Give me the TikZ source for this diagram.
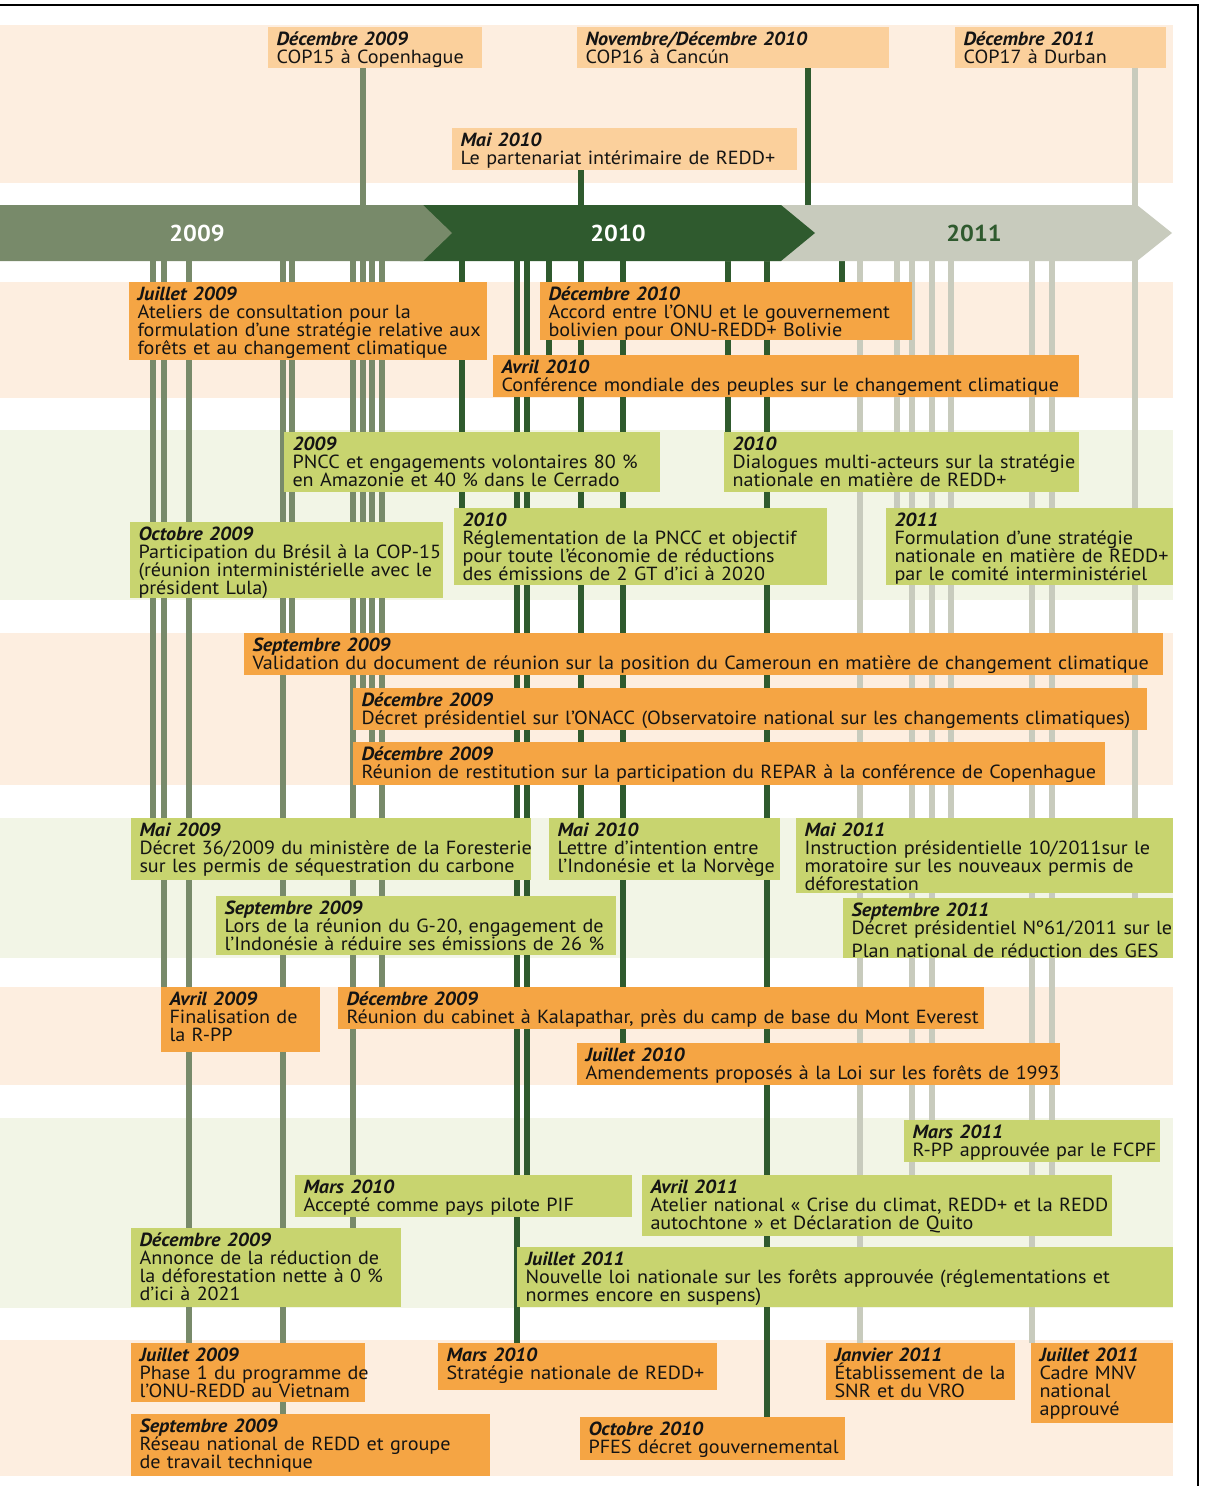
\documentclass[tikz,border=0pt]{standalone}
\usepackage{fontspec}
\setmainfont{PT Sans}[FakeStretch=1.06]
\definecolor{pbandc}{RGB}{253,238,224}
\definecolor{gbandc}{RGB}{242,245,230}
\definecolor{oboxc}{RGB}{245,165,68}
\definecolor{loboxc}{RGB}{251,208,156}
\definecolor{gboxc}{RGB}{200,212,111}
\definecolor{c09}{RGB}{120,138,106}
\definecolor{c10}{RGB}{47,90,46}
\definecolor{c11}{RGB}{200,203,189}
\definecolor{txtc}{RGB}{20,20,20}
\newcommand\evfont{\fontsize{19}{18}\selectfont}
\newcommand\yrfont{\fontsize{23}{24}\selectfont\bfseries}
\newcommand\ev[8]{%
  \node[#2, anchor=north west, minimum width={#5-#3}, minimum height={#6-#4}] (#1) at (#3,#4) {};
  \node[evtxt, anchor=base west] (#1t) at ([xshift=8.5pt,yshift=-18pt]#1.north west) {\textbf{\textit{#7}}\\#8};
}
\pgfdeclarelayer{bandlayer}
\pgfdeclarelayer{linelayer}
\pgfdeclarelayer{arrowlayer}
\pgfsetlayers{bandlayer,linelayer,arrowlayer,main}
\begin{document}
\begin{tikzpicture}[x=1pt,y=-1pt,
  every node/.style={inner sep=0pt, outer sep=0pt},
  pband/.style={fill=pbandc}, gband/.style={fill=gbandc},
  obox/.style={fill=oboxc, rectangle},
  lobox/.style={fill=loboxc, rectangle},
  gbox/.style={fill=gboxc, rectangle},
  evtxt/.style={text width=1000pt, align=left, font=\evfont, text=txtc},
  l09/.style={draw=c09, line width=5.5pt},
  l10/.style={draw=c10, line width=5.5pt},
  l11/.style={draw=c11, line width=5.5pt},
  yr/.style={font=\yrfont}]
\useasboundingbox (0,0) rectangle (1205,1486);
\begin{pgfonlayer}{bandlayer}
\fill[white] (0,0) rectangle (1205,1486);
\fill[pband] (0,25) rectangle (1173,183);
\fill[pband] (0,282) rectangle (1173,398);
\fill[gband] (0,430) rectangle (1173,600);
\fill[pband] (0,633) rectangle (1173,785);
\fill[gband] (0,818) rectangle (1173,958);
\fill[pband] (0,987) rectangle (1173,1085);
\fill[gband] (0,1118) rectangle (1173,1308);
\fill[pband] (0,1340) rectangle (1173,1476);
\end{pgfonlayer}
% frame
\draw[line width=2.2pt] (0,5) -- (1198,5) -- (1198,1486);
% event boxes
\ev{b1}{lobox}{268}{27}{482}{68}{Décembre 2009}{COP15 à Copenhague}
\ev{b2}{lobox}{577}{27}{889}{68}{Novembre/Décembre 2010}{COP16 à Cancún}
\ev{b3}{lobox}{955}{27}{1166}{68}{Décembre 2011}{COP17 à Durban}
\ev{b4}{lobox}{452}{128}{797}{170}{Mai 2010}{Le partenariat intérimaire de REDD+}
\ev{b5}{obox}{129}{282}{487}{360}{Juillet 2009}{Ateliers de consultation pour la\\formulation d’une stratégie relative aux\\forêts et au changement climatique}
\ev{b6}{obox}{540}{282}{912}{340}{Décembre 2010}{Accord entre l’ONU et le gouvernement\\bolivien pour ONU-REDD+ Bolivie}
\ev{b7}{obox}{493}{355}{1079}{397}{Avril 2010}{Conférence mondiale des peuples sur le changement climatique}
\ev{b8}{gbox}{284}{432}{660}{492}{2009}{PNCC et engagements volontaires 80 \%\\en Amazonie et 40 \% dans le Cerrado}
\ev{b9}{gbox}{724}{432}{1079}{492}{2010}{Dialogues multi-acteurs sur la stratégie\\nationale en matière de REDD+}
\ev{b10}{gbox}{130}{522}{443}{598}{Octobre 2009}{Participation du Brésil à la COP-15\\(réunion interministérielle avec le\\président Lula)}
\ev{b11}{gbox}{454}{508}{827}{585}{2010}{Réglementation de la PNCC et objectif\\pour toute l'économie de réductions\\des émissions de 2 GT d’ici à 2020}
\ev{b12}{gbox}{886}{508}{1173}{585}{2011}{Formulation d’une stratégie\\nationale en matière de REDD+\\par le comité interministériel}
\ev{b13}{obox}{244}{633}{1163}{675}{Septembre 2009}{Validation du document de réunion sur la position du Cameroun en matière de changement climatique}
\ev{b14}{obox}{353}{688}{1147}{730}{Décembre 2009}{Décret présidentiel sur l’ONACC (Observatoire national sur les changements climatiques)}
\ev{b15}{obox}{353}{742}{1105}{785}{Décembre 2009}{Réunion de restitution sur la participation du REPAR à la conférence de Copenhague}
\ev{b16}{gbox}{131}{818}{531}{880}{Mai 2009}{Décret 36/2009 du ministère de la Foresterie\\sur les permis de séquestration du carbone}
\ev{b17}{gbox}{549}{818}{780}{880}{Mai 2010}{Lettre d’intention entre\\l’Indonésie et la Norvège}
\ev{b18}{gbox}{796}{818}{1173}{893}{Mai 2011}{Instruction présidentielle 10/2011sur le\\moratoire sur les nouveaux permis de\\déforestation}
\ev{b19}{gbox}{216}{896}{616}{955}{Septembre 2009}{Lors de la réunion du G-20, engagement de\\l’Indonésie à réduire ses émissions de 26 \%}
\ev{b20}{gbox}{843}{898}{1173}{958}{Septembre 2011}{Décret présidentiel Nº61/2011 sur le\\[5pt]Plan national de réduction des GES}
\ev{b21}{obox}{161}{987}{320}{1052}{Avril 2009}{Finalisation de\\la R-PP}
\ev{b22}{obox}{338}{987}{984}{1029}{Décembre 2009}{Réunion du cabinet à Kalapathar, près du camp de base du Mont Everest}
\ev{b23}{obox}{577}{1043}{1060}{1085}{Juillet 2010}{Amendements proposés à la Loi sur les forêts de 1993}
\ev{b24}{gbox}{904}{1120}{1160}{1162}{Mars 2011}{R-PP approuvée par le FCPF}
\ev{b25}{gbox}{295}{1175}{632}{1217}{Mars 2010}{Accepté comme pays pilote PIF}
\ev{b26}{gbox}{642}{1175}{1112}{1236}{Avril 2011}{Atelier national « Crise du climat, REDD+ et la REDD\\autochtone » et Déclaration de Quito}
\ev{b27}{gbox}{131}{1228}{401}{1307}{Décembre 2009}{Annonce de la réduction de\\la déforestation nette à 0 \%\\d’ici à 2021}
\ev{b28}{gbox}{517}{1247}{1173}{1307}{Juillet 2011}{Nouvelle loi nationale sur les forêts approuvée (réglementations et\\normes encore en suspens)}
\ev{b29}{obox}{131}{1343}{365}{1402}{Juillet 2009}{Phase 1 du programme de\\l’ONU-REDD au Vietnam}
\ev{b30}{obox}{131}{1414}{490}{1476}{Septembre 2009}{Réseau national de REDD et groupe\\de travail technique}
\ev{b31}{obox}{438}{1343}{717}{1390}{Mars 2010}{Stratégie nationale de REDD+}
\ev{b32}{obox}{580}{1417}{845}{1460}{Octobre 2010}{PFES décret gouvernemental}
\ev{b33}{obox}{826}{1343}{1015}{1400}{Janvier 2011}{Établissement de la\\SNR et du VRO}
\ev{b34}{obox}{1031}{1343}{1173}{1423}{Juillet 2011}{Cadre MNV\\national\\approuvé}
% time arrow
\begin{pgfonlayer}{arrowlayer}
\fill[c11] (700,205) -- (1137,205) -- (1172,233) -- (1137,261) -- (700,261) -- cycle;
\fill[c10] (400,205) -- (781,205) -- (815,233) -- (781,261) -- (400,261) -- cycle;
\fill[c09] (0,205) -- (423,205) -- (452,233) -- (423,261) -- (0,261) -- cycle;
\node[yr, text=white] (y09) at (197,233) {2009};
\node[yr, text=white] (y10) at (618,233) {2010};
\node[yr, text=c10] (y11) at (974,233) {2011};
\end{pgfonlayer}
\foreach \xx in {153,164,189,283,292,353,363,372,382,462,517,527,549,581,623,728,767,808,842,860,897,912,932,951,1032,1052,1135}
  \coordinate (a\xx) at (\xx,233);
% connectors
\begin{pgfonlayer}{linelayer}
\foreach \xx/\bb in {153/b16,164/b21,189/b29,283/b30,292/b13,353/b27,372/b15,382/b22}
  \draw[l09] (a\xx) -- (a\xx |- \bb.north);
\draw[l09] (b1.south -| a363) -- (a363 |- b14.north);
\foreach \xx/\bb in {462/b11,517/b31,527/b25,549/b7,623/b23,728/b9,767/b32,842/b6}
  \draw[l10] (a\xx) -- (a\xx |- \bb.north);
\draw[l10] (b4.south -| a581) -- (a581 |- b17.north);
\draw[l10] (b2.south -| a808) -- (a808);
\foreach \xx/\bb in {860/b33,897/b12,912/b26,932/b24,951/b18,1032/b34,1052/b26}
  \draw[l11] (a\xx) -- (a\xx |- \bb.north);
\draw[l11] (b3.south -| a1135) -- (a1135 |- b20.north);
\end{pgfonlayer}
\end{tikzpicture}
\end{document}
